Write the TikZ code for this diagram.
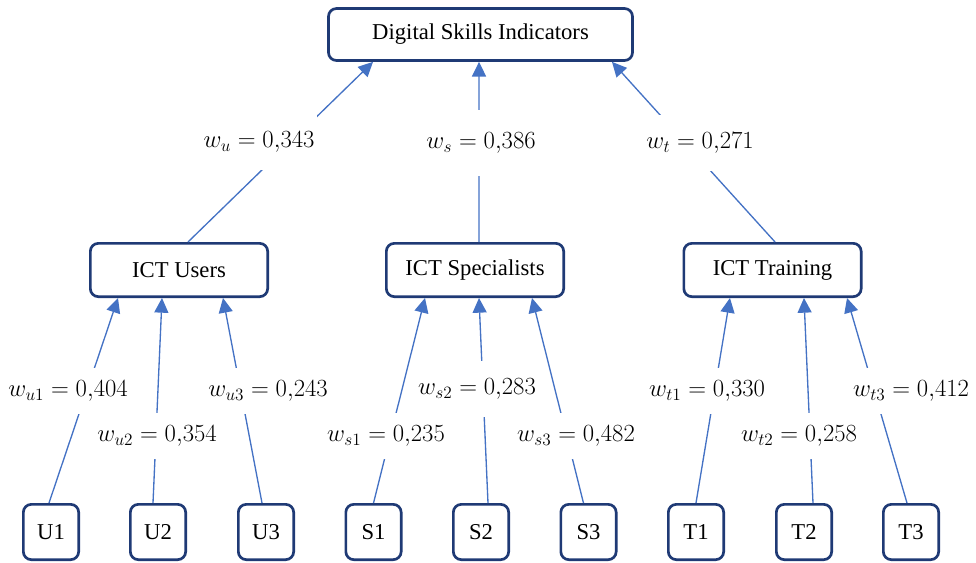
\RequirePackage{fix-cm}
\documentclass[tikz,border=0pt]{standalone}
\usepackage{fontspec}
\setmainfont{Liberation Serif}
\usetikzlibrary{arrows.meta}
\definecolor{boxblue}{HTML}{1F3A75}
\definecolor{linkblue}{HTML}{4472C4}
\begin{document}
\begin{tikzpicture}[x=0.75pt, y=-0.75pt,
	box/.style={draw=boxblue, line width=2pt, rounded corners=6pt, fill=white,
		inner sep=0pt, font=\fontsize{17}{20}\selectfont},
	topbox/.style={box, minimum width=228pt, minimum height=39pt},
	midbox/.style={box, minimum width=133pt, minimum height=40pt},
	leafbox/.style={box, minimum width=41.5pt, minimum height=41.5pt},
	link/.style={draw=linkblue, line width=1pt, -{Triangle[length=11pt, width=10.5pt]}},
	weight/.style={fill=white, inner xsep=2pt, inner ysep=0pt, font=\fontsize{18.5}{22}\selectfont},
	topweight/.style={weight, minimum height=42pt},
	leafweight/.style={weight, minimum height=34pt}
	]
	\useasboundingbox (0,0) rectangle (976,562);
	\node [topbox] (dsi) at (480.5,34.5) {Digital Skills Indicators};
	\node [midbox] (users) at (179,270) {ICT Users};
	\node [midbox] (spec) at (475,270) {ICT Specialists};
	\node [midbox] (train) at (772.5,270) {ICT Training};
	\node [leafbox] (u1) at (51,532) {U1};
	\node [leafbox] (u2) at (158,532) {U2};
	\node [leafbox] (u3) at (266,532) {U3};
	\node [leafbox] (s1) at (373.5,532) {S1};
	\node [leafbox] (s2) at (481,532) {S2};
	\node [leafbox] (s3) at (588.5,532) {S3};
	\node [leafbox] (t1) at (696,532) {T1};
	\node [leafbox] (t2) at (804,532) {T2};
	\node [leafbox] (t3) at (911,532) {T3};
	\draw [link] ([xshift=6.75pt]users.north) -- ([xshift=-80.6pt]dsi.south);
	\draw [link] ([xshift=3pt]spec.north) -- ([xshift=-1.1pt]dsi.south);
	\draw [link] ([xshift=1.9pt]train.north) -- ([xshift=98.6pt]dsi.south);
	\draw [link] ([xshift=-1.5pt]u1.north) -- ([xshift=-45.75pt]users.south);
	\draw [link] ([xshift=-3.75pt]u2.north) -- ([xshift=-12.75pt]users.south);
	\draw [link] ([xshift=-3pt]u3.north) -- ([xshift=33pt]users.south);
	\draw [link] (s1.north) -- ([xshift=-37.5pt]spec.south);
	\draw [link] ([xshift=5.25pt]s2.north) -- ([xshift=3pt]spec.south);
	\draw [link] ([xshift=-3.75pt]s3.north) -- ([xshift=42.75pt]spec.south);
	\draw [link] (t1.north) -- ([xshift=-31.9pt]train.south);
	\draw [link] ([xshift=6.75pt]t2.north) -- ([xshift=23.6pt]train.south);
	\draw [link] ([xshift=-3pt]t3.north) -- ([xshift=55.9pt]train.south);
	\node [topweight] (wu) at (259,142) {$w_u = 0{,}343$};
	\node [topweight, minimum height=49.5pt] (ws) at (481,143) {$w_s = 0{,}386$};
	\node [topweight] (wt) at (700,143) {$w_t = 0{,}271$};
	\node [leafweight] (wu1) at (68,391) {$w_{u1} = 0{,}404$};
	\node [leafweight] (wu2) at (157,436) {$w_{u2} = 0{,}354$};
	\node [leafweight] (wu3) at (268,391) {$w_{u3} = 0{,}243$};
	\node [leafweight] (ws1) at (386,436) {$w_{s1} = 0{,}235$};
	\node [leafweight, minimum height=42pt] (ws2) at (477,389) {$w_{s2} = 0{,}283$};
	\node [leafweight] (ws3) at (576,436) {$w_{s3} = 0{,}482$};
	\node [leafweight] (wt1) at (707,391) {$w_{t1} = 0{,}330$};
	\node [leafweight] (wt2) at (799,436) {$w_{t2} = 0{,}258$};
	\node [leafweight] (wt3) at (911,391) {$w_{t3} = 0{,}412$};
\end{tikzpicture}
\end{document}
